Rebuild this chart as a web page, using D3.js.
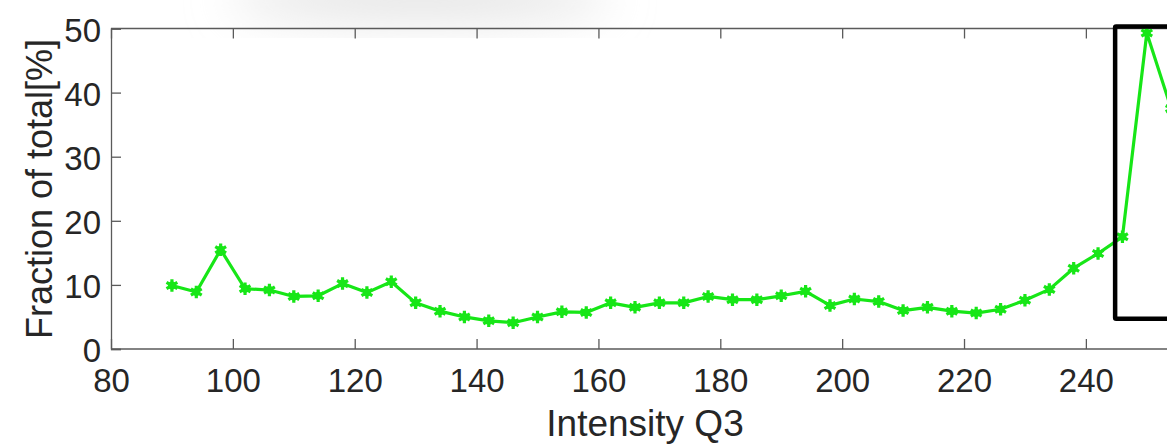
<!DOCTYPE html>
<html>
<head>
<meta charset="utf-8">
<script src="https://cdn.jsdelivr.net/npm/d3@7/dist/d3.min.js"></script>
<style>
  html, body { margin: 0; padding: 0; background: #fff; overflow: hidden; }
  svg { display: block; }
  text { font-family: "Liberation Sans", Arial, sans-serif; fill: #262626; }
</style>
</head>
<body>
<svg id="chart" width="1167" height="444"></svg>
<script>
// ---- data ----
const intensity = [90, 94, 98, 102, 106, 110, 114, 118, 122, 126, 130, 134, 138, 142, 146, 150, 154, 158, 162, 166,
                   170, 174, 178, 182, 186, 190, 194, 198, 202, 206, 210, 214, 218, 222, 226, 230, 234, 238, 242, 246, 250, 254];
const fraction = [9.9, 8.9, 15.5, 9.4, 9.2, 8.2, 8.3, 10.2, 8.8, 10.5, 7.2, 5.9, 5.0, 4.4, 4.1, 5.0, 5.8, 5.7, 7.2, 6.5,
                  7.2, 7.2, 8.2, 7.7, 7.7, 8.3, 9.0, 6.8, 7.8, 7.4, 6.0, 6.5, 5.9, 5.6, 6.2, 7.6, 9.3, 12.6, 14.9, 17.5, 49.3, 37.5];
const xTicks = [80, 100, 120, 140, 160, 180, 200, 220, 240];
const yTicks = [0, 10, 20, 30, 40, 50];
const xLabel = "Intensity Q3";
const yLabel = "Fraction of total[%]";
// highlight box (data coordinates): [xStart, xEnd], [yTop, yBottom]
const boxX = [244.8, 262];
const boxY = [50.3, 4.7];

const svg = d3.select("#chart");
const W = 1167, H = 444;
const mLeft = 111, mTop = 28.5, mBottom = 349;
const pxPerUnit = 6.093;

const x = d3.scaleLinear().domain([80, 260]).range([mLeft, mLeft + 180 * pxPerUnit]);
const y = d3.scaleLinear().domain([0, 50]).range([mBottom, mTop]);

// faint grey smudge at the top
const defs = svg.append("defs");
const blur = defs.append("filter").attr("id", "blur").attr("x", "-50%").attr("y", "-50%").attr("width", "200%").attr("height", "200%");
blur.append("feGaussianBlur").attr("stdDeviation", 24);
svg.append("ellipse").attr("cx", 420).attr("cy", -2).attr("rx", 190).attr("ry", 20)
  .attr("fill", "#e0e0e0").attr("filter", "url(#blur)");

defs.append("clipPath").attr("id", "clip").append("rect")
  .attr("x", mLeft).attr("y", 0).attr("width", W - mLeft).attr("height", mBottom + 1);

const axisColor = "#5a5a5a";
const tickFont = 33;

const xAxis = svg.append("g").attr("transform", `translate(0,${mBottom})`)
  .call(d3.axisBottom(x).tickValues(xTicks).tickSize(-10).tickPadding(0).tickFormat(d3.format("d")));
const xAxisTop = svg.append("g").attr("transform", `translate(0,${mTop})`)
  .call(d3.axisTop(x).tickValues(xTicks).tickSize(-10).tickFormat(""));
const yAxis = svg.append("g").attr("transform", `translate(${mLeft},0)`)
  .call(d3.axisLeft(y).tickValues(yTicks).tickSize(-10).tickPadding(0).tickFormat(d3.format("d")));

// extend axis lines to the right edge
xAxisTop.select(".domain").attr("d", `M${mLeft},0H${W}`);
xAxis.select(".domain").attr("d", `M${mLeft},0H${W}`);

[xAxis, xAxisTop, yAxis].forEach(g => {
  g.select(".domain").attr("stroke", axisColor).attr("stroke-width", 1.3);
  g.selectAll(".tick line").attr("stroke", axisColor).attr("stroke-width", 1.3);
  g.selectAll(".tick text").attr("fill", "#262626").style("font-size", tickFont + "px")
    .style("font-family", '"Liberation Sans", Arial, sans-serif');
});
xAxis.selectAll(".tick text").attr("y", 43).attr("dy", 0);
yAxis.selectAll(".tick text").attr("x", -10).attr("dy", 0).attr("y", 0)
  .attr("transform", "translate(0,12.5)");

svg.append("text").attr("x", 645).attr("y", 436)
  .attr("text-anchor", "middle").style("font-size", "37px").text(xLabel);
svg.append("text").attr("transform", `translate(52,189) rotate(-90)`)
  .attr("text-anchor", "middle").style("font-size", "36px").text(yLabel);

const data = intensity.map((d, i) => ({ x: d, y: fraction[i] }));
const plot = svg.append("g").attr("clip-path", "url(#clip)");
const green = "#17e617";
plot.append("path").datum(data)
  .attr("fill", "none").attr("stroke", green).attr("stroke-width", 3.2).attr("stroke-linejoin", "round")
  .attr("d", d3.line().x(d => x(d.x)).y(d => y(d.y)));
const sym = d3.symbol().type(d3.symbolAsterisk).size(110);
plot.selectAll("path.mk").data(data).enter().append("path").attr("class", "mk")
  .attr("transform", d => `translate(${x(d.x)},${y(d.y)})`)
  .attr("d", sym).attr("fill", "none").attr("stroke", green).attr("stroke-width", 3.2);
plot.selectAll("circle.mk").data(data).enter().append("circle").attr("class", "mk")
  .attr("cx", d => x(d.x)).attr("cy", d => y(d.y)).attr("r", 4).attr("fill", green);

svg.append("rect")
  .attr("x", x(boxX[0])).attr("y", y(boxY[0]))
  .attr("width", x(boxX[1]) - x(boxX[0])).attr("height", y(boxY[1]) - y(boxY[0]))
  .attr("fill", "none").attr("stroke", "#000").attr("stroke-width", 4.5).attr("rx", 1);
</script>
</body>
</html>
